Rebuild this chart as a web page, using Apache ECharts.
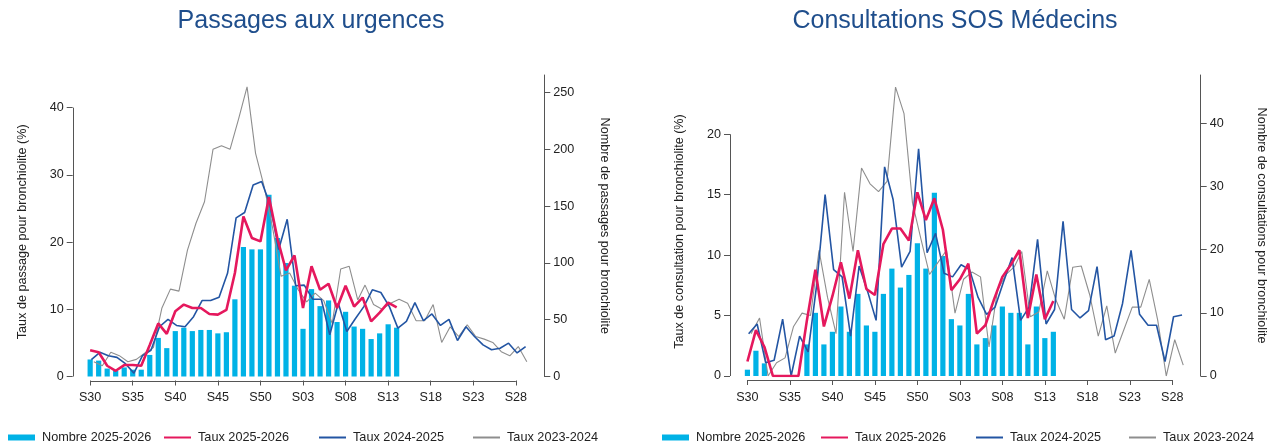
<!DOCTYPE html>
<html><head><meta charset="utf-8">
<script src="https://cdn.jsdelivr.net/npm/echarts@6.0.0/dist/echarts.min.js"></script>
<style>html,body{margin:0;padding:0;background:#fff}#c{width:1270px;height:443px}</style>
</head><body><div id="c"></div><script>
// ---- data ----
const weeks = ['S30','S31','S32','S33','S34','S35','S36','S37','S38','S39','S40','S41','S42','S43','S44','S45','S46','S47','S48','S49','S50','S51','S52',
  'S01','S02','S03','S04','S05','S06','S07','S08','S09','S10','S11','S12','S13','S14','S15','S16','S17','S18','S19','S20','S21','S22','S23','S24','S25','S26','S27','S28','S29'];
const tickWeeks = ['S30','S35','S40','S45','S50','S03','S08','S13','S18','S23','S28'];
const seriesNames = ['Nombre 2025-2026','Taux 2025-2026','Taux 2024-2025','Taux 2023-2024'];

// Passages aux urgences
const urgNombre2526 = [15,14,7,5,8,6,6,19,34,25,40,43,40,41,41,38,39,68,114,112,112,160,122,100,80,42,77,62,67,48,57,44,42,33,38,46,43];
const urgTaux2526 = [3.9,3.6,1.6,0.85,1.7,1.7,1.6,4.7,7.9,6.35,9.7,10.7,10.2,10.2,9.3,9.2,9.9,15.4,23.8,20.6,20.1,26.7,20.5,15.8,18.0,10.2,16.4,12.9,13.8,10.2,13.5,10.4,11.75,8.2,9.5,11.0,10.3];
const urgTaux2425 = [2.5,3.6,3.1,2.85,1.9,0.5,3.1,3.9,7.4,8.5,7.6,7.4,8.9,11.3,11.3,11.8,15.4,23.6,24.4,28.5,29.0,25.5,18.9,23.4,13.5,13.6,11.5,11.5,6.2,10.9,6.7,8.6,10.4,12.9,12.5,10.4,7.2,8.2,11.0,8.3,9.3,7.6,8.5,5.35,7.4,5.95,4.7,3.97,4.2,4.96,3.5,4.46];
const urgTaux2324 = [2.2,1.6,3.6,3.1,2.2,2.55,3.5,4.3,10.2,13.0,12.7,18.8,22.8,26.0,33.8,34.35,33.8,38.3,43.1,33.2,28.3,22.1,14.9,15.4,12.9,11.1,12.4,11.3,7.9,16.0,16.4,11.4,13.6,10.7,10.0,10.9,11.5,10.9,8.3,8.3,10.7,5.06,7.4,5.95,7.7,5.95,5.56,5.06,3.7,3.08,4.46,2.2];

// Consultations SOS Medecins
const sosNombre2526 = [1,4,2,0,0,0,0,5,10,5,7,11,7,13,8,7,13,17,14,16,21,17,29,19,9,8,13,5,6,8,11,10,10,5,11,6,7];
const sosTaux2526 = [1.2,3.8,2.4,0,0,0,0,4.6,8.8,4.1,6.6,9.4,6.4,10.4,7.2,6.7,10.9,12.2,12.2,11.2,15.2,12.9,14.7,12.1,7.1,8.0,9.3,3.5,4.2,6.3,8.2,9.2,10.4,4.8,8.4,4.7,6.2];
const sosTaux2425 = [3.5,4.3,1.1,1.3,4.7,0,3.3,2.0,7.5,15.0,8.8,8.2,3.3,9.1,7.0,4.6,17.3,14.6,9.0,10.3,18.8,10.2,11.8,8.5,8.2,9.2,8.8,6.5,5.1,5.7,7.8,9.8,4.6,5.7,11.3,4.3,5.5,12.8,5.5,4.8,5.4,9.05,3.0,3.3,6.0,10.4,5.1,4.2,4.2,1.2,4.9,5.05];
const sosTaux2324 = [3.5,4.8,0,1.1,1.5,4.1,5.2,5.0,10.4,6.5,3.5,15.2,10.3,17.2,15.9,15.25,16.1,23.9,21.7,14.3,11.3,8.4,9.4,10.4,5.2,8.0,8.6,8.2,2.4,7.1,8.4,9.05,10.3,4.9,5.3,8.7,6.3,4.7,9.0,9.1,6.7,3.3,5.8,1.9,3.8,5.7,5.7,8.0,4.6,0,3.0,0.9];

// tick labels of the value axes
const urgTauxTicks = [0,10,20,30,40];
const urgNombreTicks = [0,50,100,150,200,250];
const sosTauxTicks = [0,5,10,15,20];
const sosNombreTicks = [0,10,20,30,40];

// first week (S30) of each season: year, month(0-based), day
const seasonStart = {'2025-2026':[2025,6,21],'2024-2025':[2024,6,22],'2023-2024':[2023,6,24]};

// ---- helpers ----
const DAY = 864e5;
const base = Date.UTC(...seasonStart['2025-2026']);
function xPos(season, i){
  const s = seasonStart[season];
  const d = new Date(Date.UTC(s[0],s[1],s[2]) + i*7*DAY);
  d.setUTCFullYear(d.getUTCFullYear() + (2025 - s[0]));
  return (d.getTime() - base)/(7*DAY);
}
const pts = (season, arr) => arr.map((v,i)=>[xPos(season,i), v]);
const tickIdx = tickWeeks.map(w => weeks.indexOf(w));

const FONT = '"Liberation Sans", Arial, Helvetica, sans-serif';
const TXT = '#222';
const AX = '#555';
const COL = {bar:'#00B2E6', pink:'#E5185D', blue:'#2355A3', gray:'#8E8E8E'};
const FS = 12.6;

function xAxisDef(g){
  return {type:'value', gridIndex:g, min:-2.05, max:53.34, offset:4,
    axisLine:{show:false, onZero:false}, splitLine:{show:false},
    axisTick:{show:true, customValues:tickIdx, length:5, lineStyle:{color:AX}},
    axisLabel:{customValues:tickIdx, formatter:v=>weeks[Math.round(v)], margin:11, fontSize:FS, color:TXT, fontFamily:FONT}};
}
function yLeft(g, max, ticks, name){
  return {type:'value', gridIndex:g, position:'left', min:0, max:max,
    axisLine:{show:false, onZero:false}, splitLine:{show:false},
    axisTick:{show:true, customValues:ticks, length:6, lineStyle:{color:AX}},
    axisLabel:{customValues:ticks, margin:9, fontSize:FS, color:TXT, fontFamily:FONT},
    name:name, nameLocation:'middle', nameGap:44, nameTextStyle:{fontSize:FS, color:TXT, fontFamily:FONT, padding:[0,12,0,0]}};
}
function yRight(g, max, ticks, name){
  return {type:'value', gridIndex:g, position:'right', min:0, max:max,
    axisLine:{show:true, onZero:false, lineStyle:{color:AX, width:1}}, splitLine:{show:false},
    axisTick:{show:true, customValues:ticks, length:6, lineStyle:{color:AX}},
    axisLabel:{customValues:ticks, margin:9, fontSize:FS, color:TXT, fontFamily:FONT},
    name:name, nameLocation:'middle', nameRotate:-90, nameGap:54, nameTextStyle:{fontSize:FS, color:TXT, fontFamily:FONT}};
}
function panelSeries(g, nombre, t2526, t2425, t2324){
  return [
    {type:'bar', name:seriesNames[0], xAxisIndex:g, yAxisIndex:2*g+1, data:pts('2025-2026', nombre), barWidth:5.2, itemStyle:{color:COL.bar}},
    {type:'line', name:seriesNames[3], xAxisIndex:g, yAxisIndex:2*g, data:pts('2023-2024', t2324), symbol:'none', lineStyle:{width:1.1, color:COL.gray}, itemStyle:{color:COL.gray}},
    {type:'line', name:seriesNames[2], xAxisIndex:g, yAxisIndex:2*g, data:pts('2024-2025', t2425), symbol:'none', lineStyle:{width:1.6, color:COL.blue}, itemStyle:{color:COL.blue}},
    {type:'line', name:seriesNames[1], xAxisIndex:g, yAxisIndex:2*g, data:pts('2025-2026', t2526), symbol:'none', lineStyle:{width:2.6, color:COL.pink}, itemStyle:{color:COL.pink}}
  ];
}
function legendItem(name, left, isBar){
  const l = {data:[isBar?{name:name, icon:'rect'}:{name:name}], left:left, top:431, padding:0, itemWidth:27, itemHeight:6,
    selectedMode:false, textStyle:{fontSize:12.7, color:TXT, fontFamily:FONT, padding:[0,0,0,2]}};
  if (!isBar) l.itemStyle = {opacity:0};
  return l;
}

const chart = echarts.init(document.getElementById('c'), null, {renderer:'canvas'});
const option = {
  animation:false,
  backgroundColor:'#fff',
  grid:[
    {left:72.7, right:1270-544.3, top:75, bottom:66.5, outerBoundsMode:'none', containLabel:false},
    {left:730, right:1270-1200.7, top:75, bottom:67, outerBoundsMode:'none', containLabel:false}
  ],
  xAxis:[xAxisDef(0), xAxisDef(1)],
  yAxis:[
    yLeft(0, 44.86, urgTauxTicks, 'Taux de passage pour bronchiolite (%)'),
    yRight(0, 265.6, urgNombreTicks, 'Nombre de passages pour bronchiolite'),
    yLeft(1, 24.9, sosTauxTicks, 'Taux de consultation pour bronchiolite (%)'),
    yRight(1, 47.65, sosNombreTicks, 'Nombre de consultations pour bronchiolite')
  ],
  legend:[
    legendItem(seriesNames[0], 8, true), legendItem(seriesNames[1], 163), legendItem(seriesNames[2], 318), legendItem(seriesNames[3], 472),
    legendItem(seriesNames[0], 662, true), legendItem(seriesNames[1], 820), legendItem(seriesNames[2], 975), legendItem(seriesNames[3], 1128)
  ],
  series:[].concat(
    panelSeries(0, urgNombre2526, urgTaux2526, urgTaux2425, urgTaux2324),
    panelSeries(1, sosNombre2526, sosTaux2526, sosTaux2425, sosTaux2324)
  )
};
chart.setOption(option);

// axis lines drawn in R style (from first to last tick), positioned through the axes' scales
const graphics = [];
[[0, urgTauxTicks],[1, sosTauxTicks]].forEach(([g, ticks])=>{
  const f = {xAxisIndex:g, yAxisIndex:2*g};
  const a = chart.convertToPixel(f, [tickIdx[0], 0]);
  const b = chart.convertToPixel(f, [tickIdx[tickIdx.length-1], 0]);
  const yl0 = chart.convertToPixel(f, [-2.05, ticks[0]]);
  const yl1 = chart.convertToPixel(f, [-2.05, ticks[ticks.length-1]]);
  const yx = Math.round(a[1] + 4) + 0.5;
  graphics.push({type:'line', shape:{x1:a[0], y1:yx, x2:b[0], y2:yx}, style:{stroke:AX, lineWidth:1}, silent:true});
  const xl = Math.round(yl0[0]) + 0.5;
  graphics.push({type:'line', shape:{x1:xl, y1:yl0[1], x2:xl, y2:yl1[1]}, style:{stroke:AX, lineWidth:1}, silent:true});
});
graphics.push({type:'text', x:311, y:21, style:{text:'Passages aux urgences', fill:'#1F4E8C', font:'25px ' + FONT, textAlign:'center', textVerticalAlign:'middle'}});
graphics.push({type:'text', x:955, y:21, style:{text:'Consultations SOS Médecins', fill:'#1F4E8C', font:'25px ' + FONT, textAlign:'center', textVerticalAlign:'middle'}});
chart.setOption({graphic:graphics});
</script></body></html>
